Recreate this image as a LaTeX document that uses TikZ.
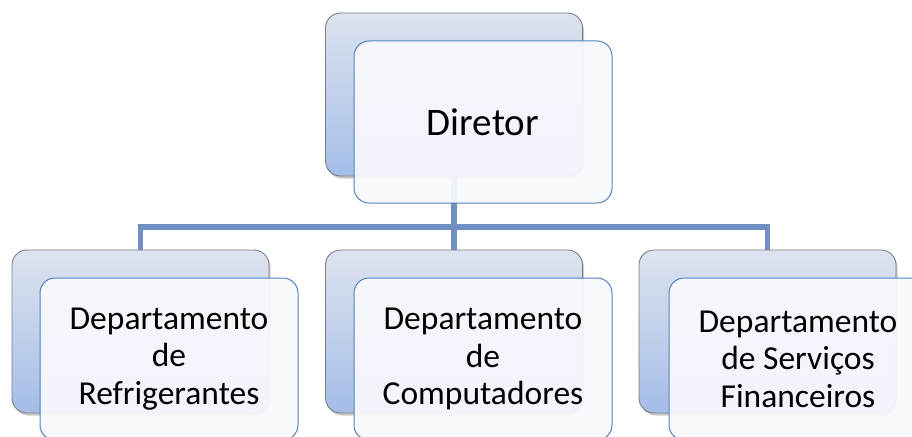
\documentclass[tikz,border=0pt]{standalone}
\usepackage{fontspec}
\setmainfont{Carlito}
\usetikzlibrary{shadows}
\definecolor{conn}{RGB}{112,144,196}
\definecolor{frontborder}{RGB}{84,130,190}
\definecolor{frontfill}{RGB}{247,249,253}
\definecolor{backtop}{RGB}{221,227,239}
\definecolor{backbot}{RGB}{164,189,232}
\definecolor{backborder}{RGB}{125,125,130}
\tikzset{
  boxpos/.style={inner sep=0pt, minimum width=257pt, minimum height=163pt},
  backbox/.style={boxpos, draw=backborder, line width=0.9pt, rounded corners=15pt,
    top color=backtop, bottom color=backbot,
    drop shadow={shadow xshift=1.5pt, shadow yshift=-2.5pt, opacity=0.35, fill=black!60}},
  frontbox/.style={draw=frontborder, line width=1pt, rounded corners=15pt,
    fill=frontfill, fill opacity=0.93, text opacity=1, minimum width=258pt, minimum height=162pt,
    inner sep=0pt, align=center, font=\fontsize{33.5}{37.5}\selectfont},
  connector/.style={draw=conn, line width=5.5pt}
}
\begin{document}
\begin{tikzpicture}[x=1pt,y=-1pt]
\useasboundingbox (0,0) rectangle (912,436);
% positions of the back boxes
\node[boxpos] (tbpos) at (454,94.5) {};
\coordinate (bus) at (0,227);
\node[boxpos] (lbpos) at (140.5,331.5) {};
\node[boxpos] (mbpos) at (454,331.5) {};
\node[boxpos] (rbpos) at (767.5,331.5) {};
% connectors
\draw[connector] (tbpos.south) -- (tbpos.south |- bus) -| (lbpos.north);
\draw[connector] (tbpos.south |- bus) -- (mbpos.north);
\draw[connector] (tbpos.south |- bus) -| (rbpos.north);
% back boxes
\node[backbox] (tb) at (tbpos) {};
\node[backbox] (lb) at (lbpos) {};
\node[backbox] (mb) at (mbpos) {};
\node[backbox] (rb) at (rbpos) {};
% front boxes
\node[frontbox, font=\fontsize{39}{47}\selectfont] (tf) at (483,122) {Diretor};
\node[frontbox] (lf) at (169,359) {Departamento\\de\\Refrigerantes};
\node[frontbox] (mf) at (483,359) {Departamento\\de\\Computadores};
\node[frontbox] (rf) at (798,359) {Departamento\\de Serviços\\Financeiros};
\end{tikzpicture}
\end{document}
